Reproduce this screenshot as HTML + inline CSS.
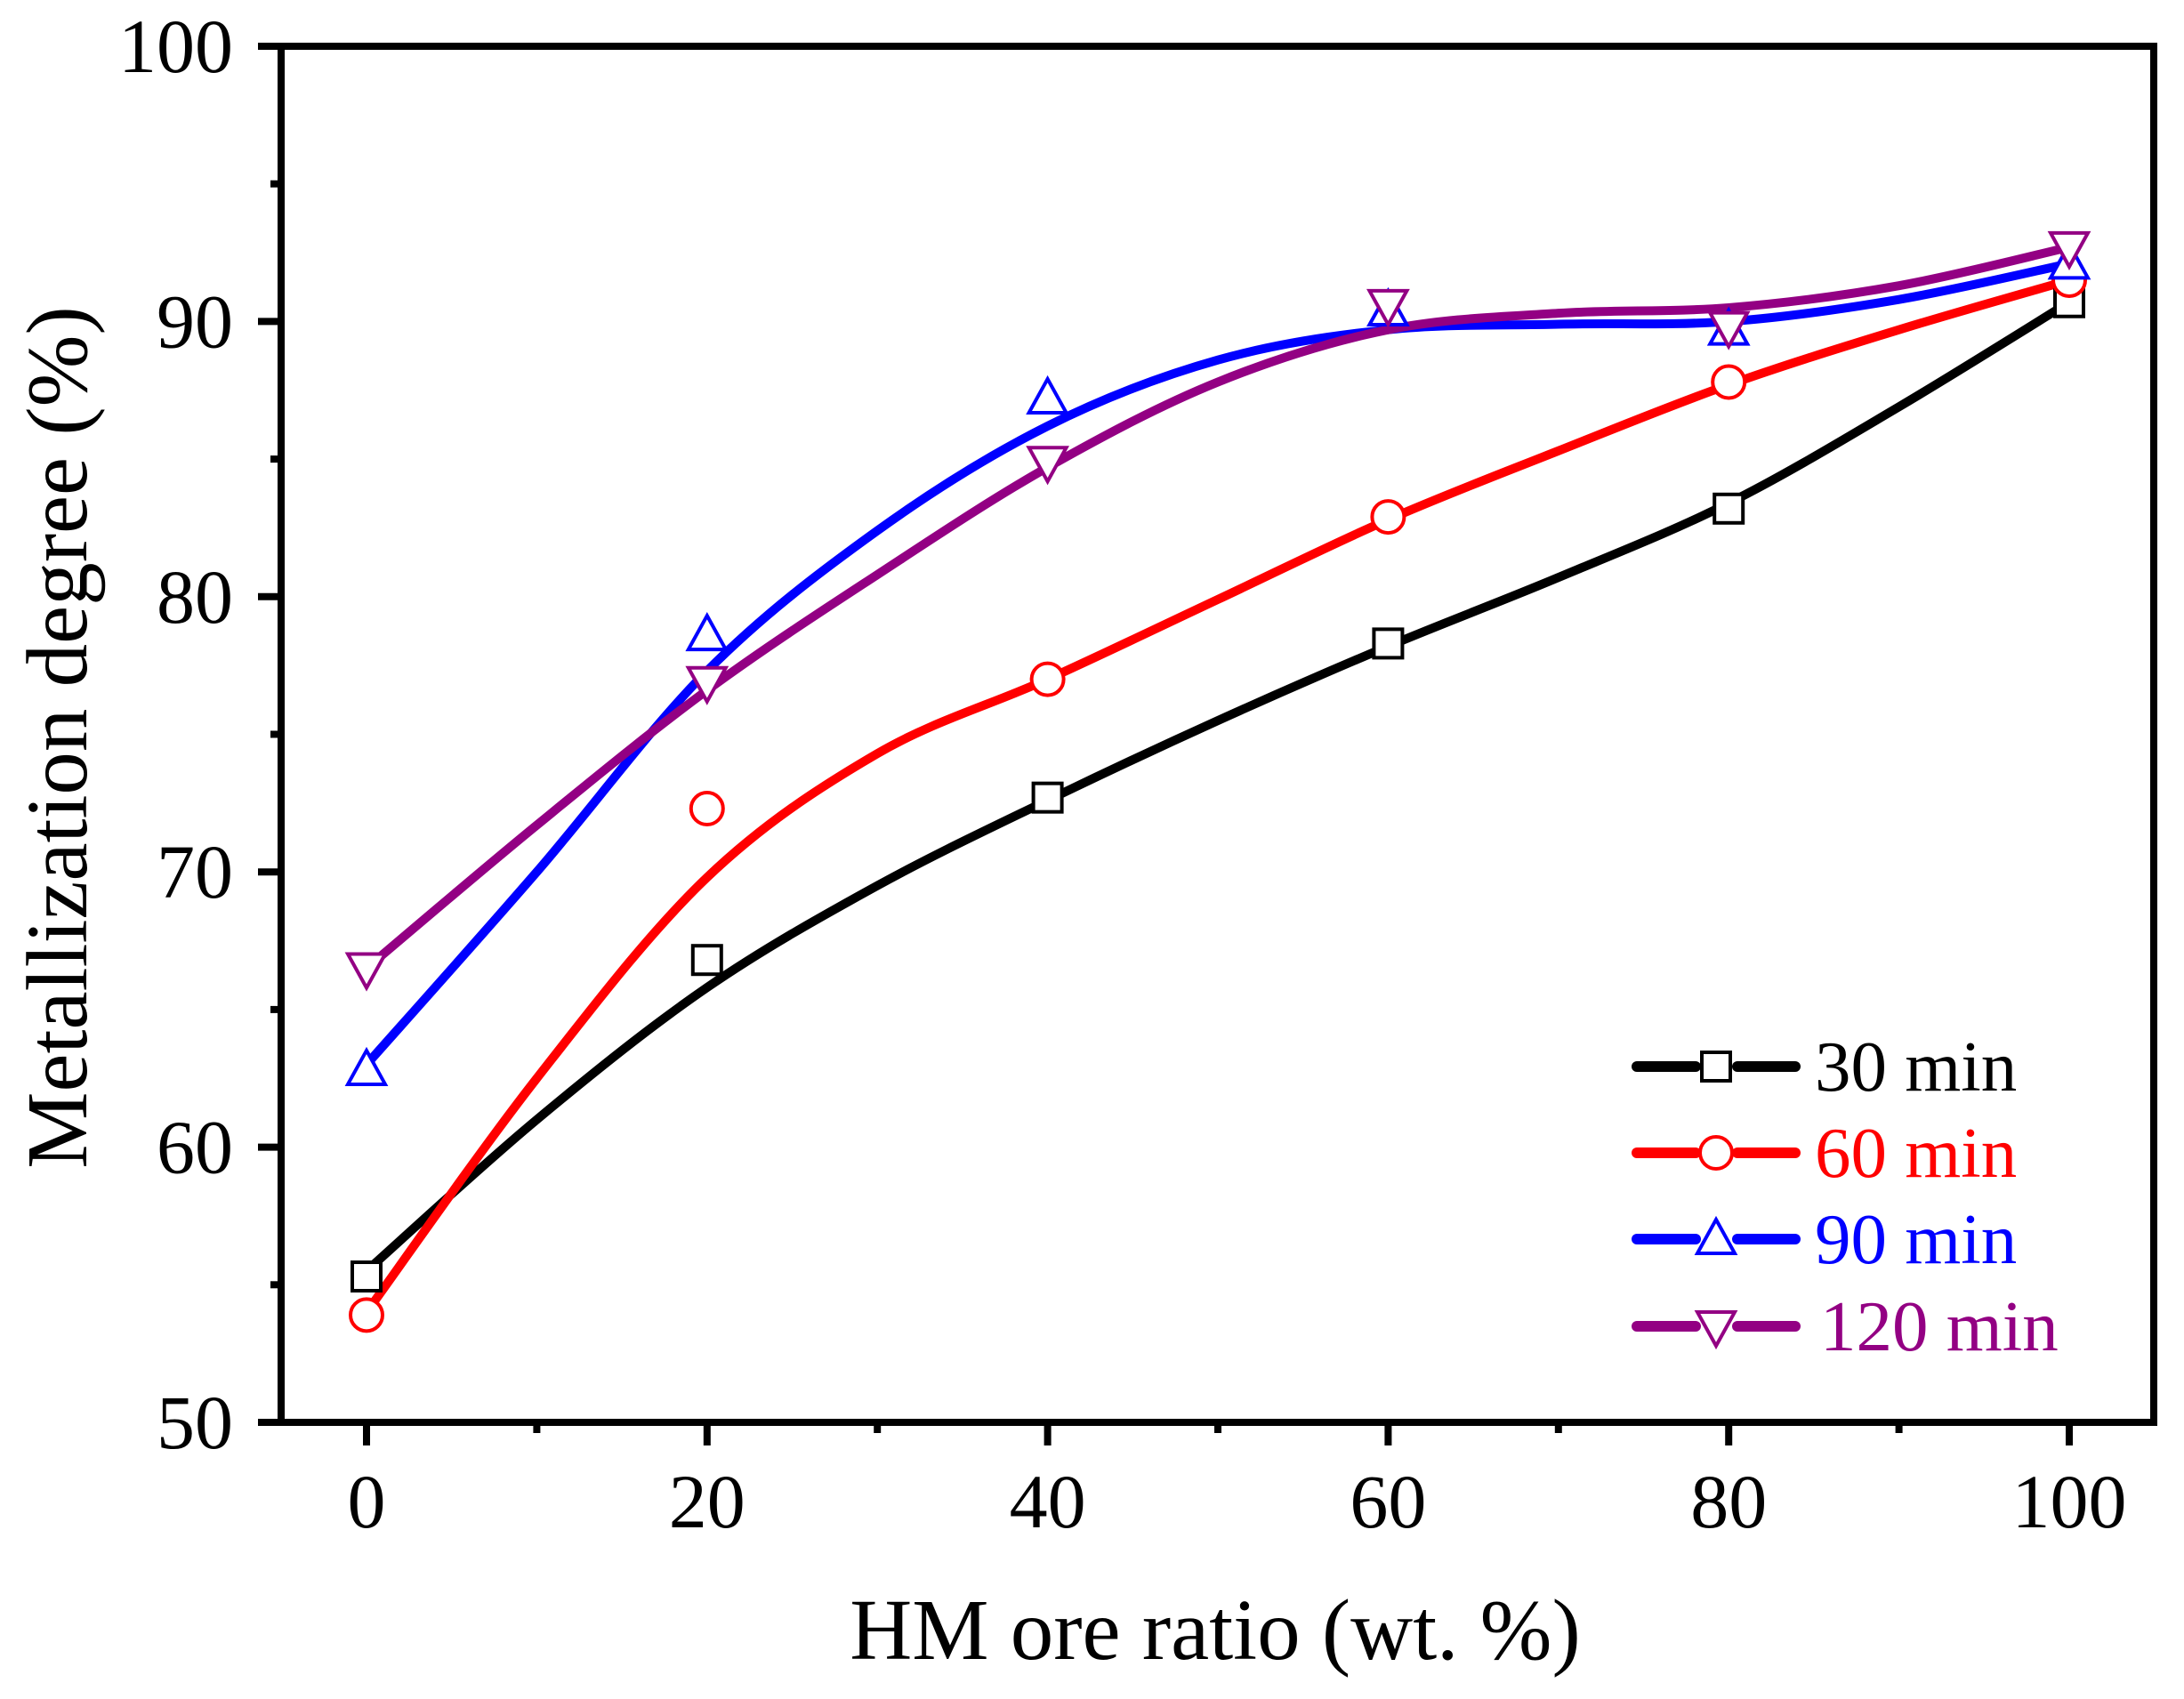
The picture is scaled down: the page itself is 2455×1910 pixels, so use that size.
<!DOCTYPE html>
<html><head><meta charset="utf-8"><style>
html,body{margin:0;padding:0;background:#fff;}
svg{display:block;}
text{font-family:"Liberation Serif",serif;}
</style></head><body>
<svg id="s" width="2455" height="1910" viewBox="0 0 2455 1910" xmlns="http://www.w3.org/2000/svg">
<g id="curves" fill="none" stroke-width="10" stroke-linecap="round" stroke-linejoin="round"></g>
<g id="marks" fill="none" stroke-width="4"></g>
<rect x="316" y="52" width="2105" height="1547" fill="none" stroke="#000" stroke-width="8"/>
<g id="ticks" stroke="#000" stroke-width="8"></g>
<g id="labels" font-size="86" fill="#000"></g>
<text x="1366" y="1865" font-size="97" text-anchor="middle">HM ore ratio (wt. %)</text>
<text transform="translate(97,829) rotate(-90)" font-size="97" text-anchor="middle">Metallization degree (%)</text>
<g id="legend"></g>
</svg>
<script>
const X=u=>412+u*19.14, Y=v=>1599-(v-50)*30.94;
const ns="http://www.w3.org/2000/svg";
function el(p,t,a,txt){const e=document.createElementNS(ns,t);for(const k in a)e.setAttribute(k,a[k]);if(txt!=null)e.textContent=txt;document.getElementById(p).appendChild(e);return e;}
const series=[
 {c:"#000000",m:"sq",name:"30 min",d:[55.3,66.8,72.7,78.3,83.2,90.7],cv:[55.5,61,65.8,69.5,72.6,75.5,78.2,80.7,83.4,86.9,90.7]},
 {c:"#ff0000",m:"ci",name:"60 min",d:[53.9,72.3,77.0,82.9,87.8,91.5],cv:[54,62.5,69.8,74.3,77.0,79.9,82.8,85.3,87.7,89.7,91.5]},
 {c:"#0000ff",m:"up",name:"90 min",d:[62.8,78.6,87.2,90.4,89.7,92.1],cv:[63,70,77.3,82.4,86.2,88.6,89.7,89.9,90.0,90.8,92.1]},
 {c:"#930083",m:"dn",name:"120 min",d:[66.5,76.9,84.9,90.6,89.8,92.7],cv:[66.5,71.7,76.6,80.8,84.7,87.8,89.7,90.3,90.5,91.3,92.7]}
];
function cr(pts){let d="M"+pts[0][0]+","+pts[0][1];for(let i=0;i<pts.length-1;i++){const p0=pts[i-1]||pts[i],p1=pts[i],p2=pts[i+1],p3=pts[i+2]||p2;
 d+=" C"+(p1[0]+(p2[0]-p0[0])/6)+","+(p1[1]+(p2[1]-p0[1])/6)+" "+(p2[0]-(p3[0]-p1[0])/6)+","+(p2[1]-(p3[1]-p1[1])/6)+" "+p2[0]+","+p2[1];}return d;}
function marker(g,type,x,y,c){const s=16;
 if(type=="sq")el(g,"rect",{x:x-s,y:y-s,width:2*s,height:2*s,stroke:c,fill:"#fff","stroke-width":4});
 else if(type=="ci")el(g,"circle",{cx:x,cy:y,r:18,stroke:c,fill:"#fff","stroke-width":4});
 else if(type=="up")el(g,"polygon",{points:`${x},${y-22} ${x+21},${y+16} ${x-21},${y+16}`,stroke:c,fill:"#fff","stroke-width":4});
 else el(g,"polygon",{points:`${x},${y+22} ${x+21},${y-16} ${x-21},${y-16}`,stroke:c,fill:"#fff","stroke-width":4});}
series.forEach(s=>{el("curves","path",{d:cr(s.cv.map((v,i)=>[X(i*10),Y(v)])),stroke:s.c});});
series.forEach(s=>{s.d.forEach((v,i)=>marker("marks",s.m,X(i*20),Y(v),s.c));});
for(let u=0;u<=100;u+=10){const maj=u%20==0;el("ticks","line",{x1:X(u),x2:X(u),y1:1599,y2:1599+(maj?26:12)});if(maj)el("labels","text",{x:X(u),y:1717,"text-anchor":"middle"},String(u));}
for(let v=50;v<=100;v+=5){const maj=v%10==0;el("ticks","line",{y1:Y(v),y2:Y(v),x1:316,x2:316-(maj?26:12)});if(maj)el("labels","text",{x:262,y:Y(v)+29,"text-anchor":"end"},String(v));}
const ly=[1199,1296,1393,1491];
series.forEach((s,i)=>{const y=ly[i];
 el("legend","line",{x1:1840,x2:1906,y1:y,y2:y,stroke:s.c,"stroke-width":12,"stroke-linecap":"round"});
 el("legend","line",{x1:1953,x2:2018,y1:y,y2:y,stroke:s.c,"stroke-width":12,"stroke-linecap":"round"});
 marker("legend",s.m,1929,y,s.c);
 el("legend","text",{x:i==3?2046:2040,y:y+27,"font-size":81,fill:s.c},s.name);});
</script>
</body></html>
